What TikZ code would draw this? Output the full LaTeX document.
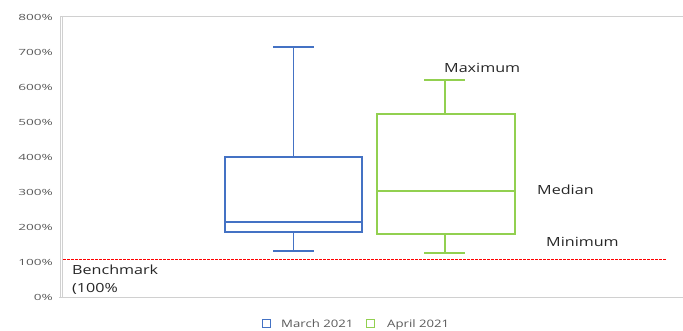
\documentclass[tikz,border=0pt]{standalone}
\usepackage{fontspec}
\setmainfont{Open Sans}[FakeStretch=1.28]
\newfontfamily\tickfont{Open Sans}[FakeStretch=1.6]
\definecolor{march edge}{HTML}{4472C4}
\definecolor{april edge}{HTML}{92D050}
\definecolor{benchred}{HTML}{FF0000}
\definecolor{frame gray}{HTML}{D0D0D0}
\definecolor{tick gray}{HTML}{595959}
\def\marchbox{(225,157) rectangle (362,232)}
\def\aprilbox{(377,114) rectangle (515,234)}
\tikzset{march/.style={draw=march edge, line width=1.1pt},
    april/.style={draw=april edge, line width=1.1pt},
    frame/.style={draw=frame gray, line width=1pt},
    benchdash/.style={fill=benchred, draw=none},
    ticklab/.style={anchor=east, inner sep=0pt, text=tick gray, font=\tickfont\fontsize{8.5}{9}\selectfont},
    note/.style={anchor=base west, inner sep=0pt, text=black!85, font=\fontsize{12.6}{14}\selectfont},
    legendlab/.style={anchor=base west, inner sep=0pt, text=tick gray, font=\fontsize{10.3}{12}\selectfont}}

\begin{document}
\begin{tikzpicture}[x=1pt, y=-1pt]
 \useasboundingbox (0,0) rectangle (683,330);

 % plot frame
 \draw[frame] (61,16.5) -- (683,16.5);
 \draw[frame] (59,297.5) -- (683,297.5);
 \draw[frame, line width=3pt] (61,16) -- (61,298);
 \draw[white, line width=0.6pt] (61,17) -- (61,297);

 % y axis
 \node[ticklab] (tick0) at (53,297) {0\%};
 \foreach \v in {1,...,8}
   \node[ticklab] (tick\v) at (53,297-35*\v) {\v00\%};

 % benchmark
 \coordinate (benchstart) at (63,259);
 \foreach \x in {0,4,...,600}
   \fill[benchdash] ([xshift=\x pt]benchstart) rectangle ++(3,1.2);
 \node[note] (bench) at (72,274) {Benchmark};
 \node[note] (benchval) at (72,292) {(100\%};

 % march 2021
 \draw[march] \marchbox;
 \draw[march] (225,222) -- (362,222);
 \draw[march] (293.5,157) -- (293.5,47) (273,47) -- (314,47);
 \draw[march] (293.5,232) -- (293.5,251) (273,251) -- (314,251);

 % april 2021
 \draw[april] \aprilbox;
 \draw[april] (377,191) -- (515,191);
 \draw[april] (445,114) -- (445,80) (424,80) -- (465,80);
 \draw[april] (445,234) -- (445,253) (424,253) -- (465,253);

 \node[note] (max) at (444,72.7) {Maximum};
 \node[note] (med) at (537,194) {Median};
 \node[note] (min) at (546,246.7) {Minimum};

 % legend
 \draw[march, line width=1pt] (262,319.5) rectangle (270,327.5);
 \node[legendlab] (marchlab) at (281,327.5) {March 2021};
 \draw[april, line width=1pt] (366,319.5) rectangle (374,327.5);
 \node[legendlab] (aprillab) at (387,327.5) {April 2021};

\end{tikzpicture}
\end{document}
